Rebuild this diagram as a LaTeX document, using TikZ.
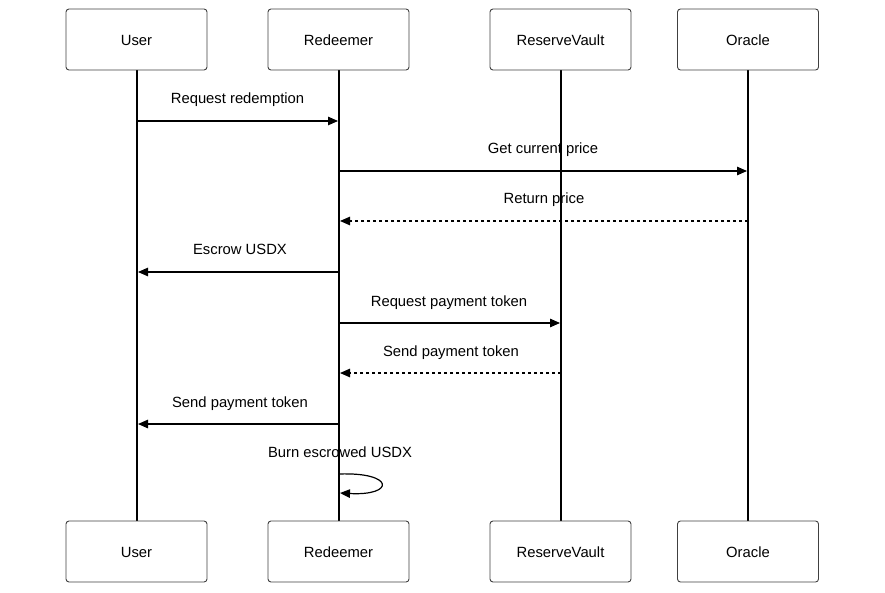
\documentclass[tikz,border=0pt]{standalone}
\usepackage{fontspec}
\setmainfont{Liberation Sans}
\usetikzlibrary{arrows.meta}
\begin{document}
\begin{tikzpicture}[x=1pt,y=-1pt,
  actor/.style={draw=black!75, line width=0.9pt, rounded corners=3pt,
    minimum width=141pt, minimum height=61pt, fill=white, inner sep=0pt,
    font=\fontsize{14.8}{17}\selectfont},
  atxt/.style={anchor=base, inner sep=0pt, font=\fontsize{14.8}{17}\selectfont},
  life/.style={line width=1.8pt},
  msg/.style={line width=1.2pt, -{Triangle[length=10pt,width=8.5pt]}},
  reply/.style={msg, dash pattern=on 3pt off 3pt},
  lbl/.style={anchor=base, inner sep=0pt, font=\fontsize{14.8}{17}\selectfont}]
\useasboundingbox (0,0) rectangle (885,593);
% lifelines (drawn first, under boxes)
\coordinate (uT) at (137,70);   \coordinate (uB) at (137,521);
\coordinate (rT) at (339,70);   \coordinate (rB) at (339,521);
\coordinate (vT) at (561,70);   \coordinate (vB) at (561,521);
\coordinate (oT) at (748,70);   \coordinate (oB) at (748,521);
\draw[life] (uT) -- (uB);
\draw[life] (rT) -- (rB);
\draw[life] (vT) -- (vB);
\draw[life] (oT) -- (oB);
% actors
\node[actor] (user1) at (136.5,39.5) {};
\node[actor] (red1)  at (338.5,39.5) {};
\node[actor] (vault1) at (560.5,39.5) {};
\node[actor] (orc1)  at (748,39.5) {};
\node[actor] (user2) at (136.5,551.5) {};
\node[actor] (red2)  at (338.5,551.5) {};
\node[actor] (vault2) at (560.5,551.5) {};
\node[actor] (orc2)  at (748,551.5) {};
\node[atxt] (tu1) at (136.5,45.5) {User};
\node[atxt] (tr1) at (338.5,45.5) {Redeemer};
\node[atxt] (tv1) at (560.5,45.5) {ReserveVault};
\node[atxt] (to1) at (748,45.5) {Oracle};
\node[atxt] (tu2) at (136.5,557.5) {User};
\node[atxt] (tr2) at (338.5,557.5) {Redeemer};
\node[atxt] (tv2) at (560.5,557.5) {ReserveVault};
\node[atxt] (to2) at (748,557.5) {Oracle};
% message anchor points
\coordinate (u1) at (137,121); \coordinate (r1) at (338,121);
\coordinate (r2) at (339,171); \coordinate (o2) at (747,171);
\coordinate (o3) at (748,221); \coordinate (r3) at (340,221);
\coordinate (r4) at (339,272); \coordinate (u4) at (138,272);
\coordinate (r5) at (339,323); \coordinate (v5) at (560,323);
\coordinate (v6) at (561,373); \coordinate (r6) at (340,373);
\coordinate (r7) at (339,424); \coordinate (u7) at (138,424);
\coordinate (r8a) at (339,474); \coordinate (r8b) at (340,493);
% messages
\draw[msg] (u1) -- (r1);
\node[lbl] (l1) at (237.5,104) {Request redemption};
\draw[msg] (r2) -- (o2);
\node[lbl] (l2) at (543,154) {Get current price};
\draw[reply] (o3) -- (r3);
\node[lbl] (l3) at (544,204) {Return price};
\draw[msg] (r4) -- (u4);
\node[lbl] (l4) at (240,255) {Escrow USDX};
\draw[msg] (r5) -- (v5);
\node[lbl] (l5) at (449,306) {Request payment token};
\draw[reply] (v6) -- (r6);
\node[lbl] (l6) at (451,356) {Send payment token};
\draw[msg] (r7) -- (u7);
\node[lbl] (l7) at (240,407) {Send payment token};
\draw[msg] (r8a) .. controls (395,472) and (395,496) .. (r8b);
\node[lbl] (l8) at (340,457) {Burn escrowed USDX};
\end{tikzpicture}
\end{document}
